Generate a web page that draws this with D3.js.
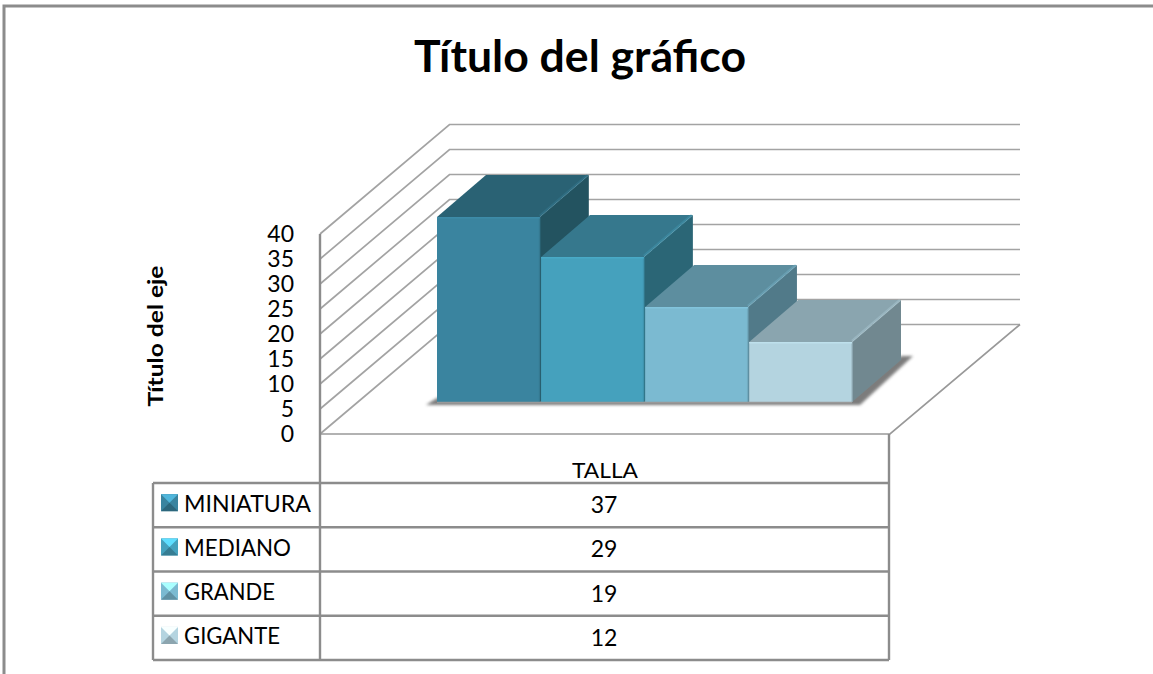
<!DOCTYPE html>
<html><head><meta charset="utf-8">
<script src="https://cdn.jsdelivr.net/npm/d3@7"></script>
<style>
html,body{margin:0;padding:0;background:#fff;overflow:hidden}
svg{display:block}
text{font-family:Lato,"Open Sans",sans-serif;fill:#000}
</style></head><body><div id="chart"></div>
<script>
const categories = ["TALLA"];
const seriesNames = ["MINIATURA","MEDIANO","GRANDE","GIGANTE"];
const seriesValues = [37,29,19,12];
const axisTicks = [0,5,10,15,20,25,30,35,40];
const frontColors = ["#3a849f","#45a1bd","#7bbad1","#b4d4e0"];
const topColors = ["#2a6274","#36788d","#5d8e9f","#8aa5af"];
const sideColors = ["#235360","#2b6676","#517a89","#718890"];
const chartTitle = "Título del gráfico";
const axisTitle = "Título del eje";

const W=1153,H=674;
const svg=d3.select("#chart").append("svg").attr("width",W).attr("height",H);
const defs=svg.append("defs");
defs.append("filter").attr("id","blur").attr("x","-20%").attr("y","-50%").attr("width","140%").attr("height","200%")
  .append("feGaussianBlur").attr("stdDeviation",1.6);

// chart frame (only top and left edges are visible)
svg.append("path").attr("d","M4,674V6H1153").attr("fill","none").attr("stroke","#8c8c8c").attr("stroke-width",3);

svg.append("text").attr("x",580).attr("y",72).attr("text-anchor","middle")
  .attr("font-size",43).attr("font-weight",700).attr("textLength",332).attr("lengthAdjust","spacingAndGlyphs").text(chartTitle);

// projection
const wallX=320, wallDX=129.5, wallDY=-109.5, floorRight=890;
const yWall=d3.scaleLinear().domain([0,40]).range([434,234]);
const grid=svg.append("g").attr("fill","none").attr("stroke","#a3a3a3");
grid.selectAll("path").data(axisTicks).join("path")
  .attr("stroke-width",1.7)
  .attr("d",v=>{const y=yWall(v);return `M${wallX},${y}L${wallX+wallDX},${y+wallDY}H1020`;});
// floor
grid.append("path").attr("stroke","#999").attr("stroke-width",1.7)
  .attr("d",`M${wallX},${yWall(0)}H${floorRight}L1020,${yWall(0)+wallDY}`);

// axis
const axis=d3.axisLeft(yWall).tickValues(axisTicks).tickSize(0).tickPadding(0);
const gA=svg.append("g").attr("transform",`translate(294,0)`).call(axis);
gA.select(".domain").remove();
gA.selectAll("text").attr("font-size",23).attr("font-family","Lato");
svg.append("line").attr("x1",wallX).attr("x2",wallX).attr("y1",yWall(40)).attr("y2",660).attr("stroke","#8c8c8c").attr("stroke-width",2.4);

svg.append("text").attr("transform","translate(163,336) rotate(-90)").attr("text-anchor","middle")
  .attr("font-size",21).attr("font-weight",700).attr("textLength",141).attr("lengthAdjust","spacingAndGlyphs").text(axisTitle);

// bars
const xBar=d3.scaleBand().domain(seriesNames).range([437,852]).paddingInner(0.012);
const hBar=d3.scaleLinear().domain([0,40]).range([0,200]);
const baseY=402, dx=49, dy=-42;

// shadows
svg.append("path").attr("d",`M426,405L437,398H852L${852+dx},${baseY+dy-4}H${852+dx+12}L${852+8},405z`)
  .attr("fill","#444").attr("opacity",.7).attr("filter","url(#blur)");

const bars=svg.append("g").selectAll("g").data(seriesNames.map((n,i)=>({n,i,v:seriesValues[i]}))).join("g");
bars.append("path").attr("fill",d=>sideColors[d.i])
  .attr("d",d=>{const x=xBar(d.n)+xBar.bandwidth(),t=baseY-hBar(d.v);return `M${x},${baseY}V${t}l${dx},${dy}V${baseY+dy}z`;});
bars.append("path").attr("fill",d=>topColors[d.i])
  .attr("d",d=>{const x=xBar(d.n),t=baseY-hBar(d.v);return `M${x},${t}h${xBar.bandwidth()}l${dx},${dy}h${-xBar.bandwidth()}z`;});
// bevelled edge of the top/side
bars.append("path").attr("fill","none").attr("stroke",d=>frontColors[d.i]).attr("stroke-opacity",.35).attr("stroke-width",2.5)
  .attr("d",d=>{const x=xBar(d.n)+xBar.bandwidth(),t=baseY-hBar(d.v);return `M${x},${t-1}l${dx-1},${dy+1}`;});
bars.append("rect").attr("x",d=>xBar(d.n)).attr("width",xBar.bandwidth())
  .attr("y",d=>baseY-hBar(d.v)).attr("height",d=>hBar(d.v)).attr("fill",d=>frontColors[d.i]);
bars.append("rect").attr("x",d=>xBar(d.n)+xBar.bandwidth()-1).attr("width",1.5)
  .attr("y",d=>baseY-hBar(d.v)).attr("height",d=>hBar(d.v)).attr("fill",d=>d3.color(frontColors[d.i]).darker(.25));
bars.append("rect").attr("x",d=>xBar(d.n)).attr("width",xBar.bandwidth())
  .attr("y",d=>baseY-hBar(d.v)).attr("height",1.5).attr("fill",d=>d3.color(frontColors[d.i]).brighter(.15));
svg.append("line").attr("x1",437).attr("x2",852).attr("y1",baseY+.5).attr("y2",baseY+.5).attr("stroke","#999").attr("stroke-width",1.5);

// data table
const rows=d3.scaleBand().domain(seriesNames).range([483,660]);
const tableLeft=153,tableRight=889;
const tbl=svg.append("g").attr("stroke","#8c8c8c").attr("stroke-width",2.4).attr("fill","none");
const lines=[483,...seriesNames.map(n=>rows(n)+rows.bandwidth())];
tbl.selectAll("line.h").data(lines).join("line").attr("x1",tableLeft).attr("x2",tableRight).attr("y1",d=>d).attr("y2",d=>d);
tbl.append("line").attr("x1",tableLeft).attr("x2",tableLeft).attr("y1",483).attr("y2",660);
tbl.append("line").attr("x1",tableRight).attr("x2",tableRight).attr("y1",434).attr("y2",660);

svg.append("text").attr("x",605).attr("y",478).attr("text-anchor","middle").attr("font-size",22).attr("textLength",66).attr("lengthAdjust","spacingAndGlyphs").text(categories[0]);

const row=svg.append("g").selectAll("g").data(seriesNames.map((n,i)=>({n,i,v:seriesValues[i]}))).join("g")
  .attr("transform",d=>`translate(0,${rows(d.n)+rows.bandwidth()/2})`);
row.append("text").attr("x",604).attr("y",8).attr("text-anchor","middle").attr("font-size",23).text(d=>d.v);
const labelWidths=[127,107,91,96];
row.append("text").attr("x",184).attr("y",6.5).attr("font-size",23).attr("textLength",(d)=>labelWidths[d.i]).attr("lengthAdjust","spacingAndGlyphs").text(d=>d.n);
// pyramid-bevel legend keys
const s=17;
const key=row.append("g").attr("transform","translate(161,-11)");
key.append("rect").attr("width",s).attr("height",s).attr("fill",d=>frontColors[d.i]);
key.append("path").attr("d",`M0,0H${s}L${s/2},${s/2}z`).attr("fill",d=>d3.color(frontColors[d.i]).brighter(.9));
key.append("path").attr("d",`M0,${s}H${s}L${s/2},${s/2}z`).attr("fill",d=>d3.color(frontColors[d.i]).darker(.7));
</script></body></html>
